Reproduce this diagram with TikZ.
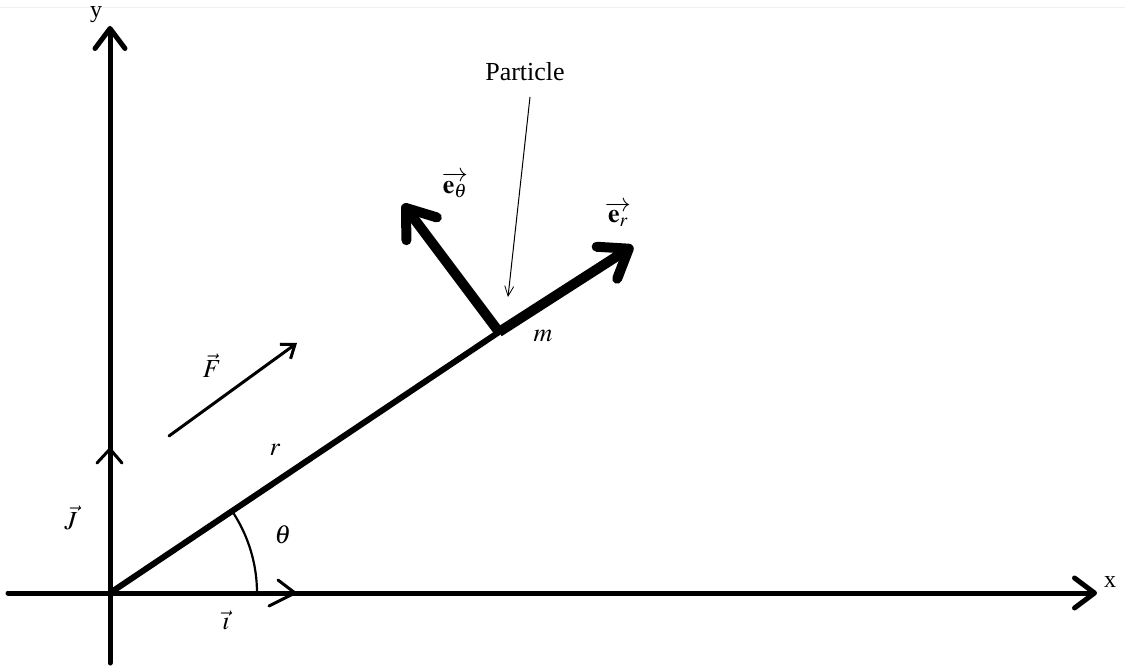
\documentclass[tikz,border=0pt]{standalone}
\usepackage{mathptmx}
\usepackage[no-math]{fontspec}
\setmainfont{Liberation Serif}
\usetikzlibrary{arrows.meta}
\begin{document}
\begin{tikzpicture}[x=1pt,y=-1pt,
  lbl/.style={font=\fontsize{26}{30}\selectfont, inner sep=0pt},
  axlbl/.style={font=\fontsize{24}{28}\selectfont, inner sep=0pt, anchor=base},
  axis/.style={line width=5pt, line cap=round, -{Straight Barb[length=20pt,width=30pt,line width=5pt,round]}},
  basis/.style={line width=10pt, -{Straight Barb[length=26pt,width=38pt,line width=10pt,round]}},
]
\useasboundingbox (0,0) rectangle (1125,669);
\draw[gray!12, line width=0.8pt] (0,7) -- (1125,7);
\coordinate (O) at (110,593);
\coordinate (M) at (499,332);
\coordinate (XL) at (8,593);
\coordinate (XR) at (1097,593);
\coordinate (YB) at (110,663);
\coordinate (YT) at (110,26);
% axes
\draw[axis] (XL) -- (XR);
\draw[axis] (YB) -- (YT);
\node[axlbl] (xlab) at (1110,587) {x};
\node[axlbl] (ylab) at (96,18) {y};
% unit vectors i and j (open chevrons on the axes)
\coordinate (ItipA) at (278,580);
\coordinate (Itip) at (295,593);
\coordinate (ItipB) at (269,606);
\draw[line width=3pt, line cap=round, line join=round] (ItipA) -- (Itip) -- (ItipB);
\coordinate (JtipA) at (97,463);
\coordinate (Jtip) at (110,449);
\coordinate (JtipB) at (122,463);
\draw[line width=3pt, line cap=round, line join=round] (JtipA) -- (Jtip) -- (JtipB);
\node[lbl] (ilab) at (226,620) {$\vec{\imath}$};
\node[lbl] (jlab) at (71,518) {$\vec{J}$};
% radius r
\draw[line width=6pt, line cap=round] (O) -- (M);
\node[lbl] (rlab) at (275,450) {$r$};
% angle theta
\draw[line width=2.2pt] ([shift={(0:147)}]O) arc[start angle=0, end angle=-33.9, radius=147];
\node[lbl] (thlab) at (283,535) {$\theta$};
% particle
\node[lbl] (mlab) at (543,336) {$m$};
\coordinate (ER) at (633,246);
\coordinate (ET) at (403,204);
\draw[basis] (M) -- (ER);
\draw[basis] (M) -- (ET);
\node[lbl] (erlab) at (618,214) {$\overrightarrow{\mathbf{e}_{r}}$};
\node[lbl] (etlab) at (455,185) {$\overrightarrow{\mathbf{e}_{\theta}}$};
% pointer
\node[lbl] (plab) at (525,72) {Particle};
\coordinate (P1) at (530,97);
\coordinate (P2) at (508,297);
\draw[line width=1pt, -{Straight Barb[length=10pt,width=9pt,line width=0.8pt]}] (P1) -- (P2);
% force F
\coordinate (F1) at (169,436);
\coordinate (F2) at (297,343);
\draw[line width=3pt, line cap=round, -{Straight Barb[length=12pt,width=18pt,line width=3pt]}] (F1) -- (F2);
\node[lbl] (flab) at (212,366) {$\vec{F}$};
\end{tikzpicture}
\end{document}
